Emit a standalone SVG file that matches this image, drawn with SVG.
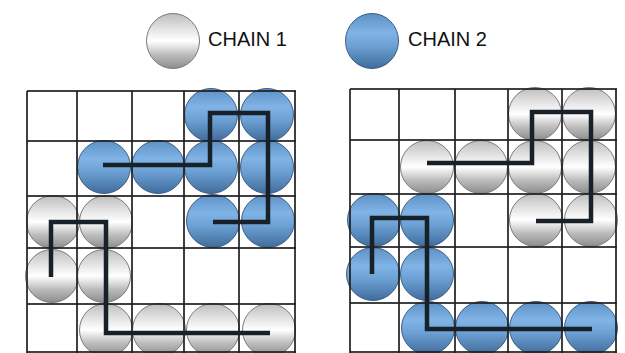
<svg xmlns="http://www.w3.org/2000/svg" width="625" height="353" viewBox="0 0 625 353">
<defs>
<linearGradient id="gw" x1="0" y1="0" x2="0" y2="1">
<stop offset="0" stop-color="#bdbdbd"/>
<stop offset="0.3" stop-color="#e6e6e6"/>
<stop offset="0.5" stop-color="#ffffff"/>
<stop offset="0.75" stop-color="#bcbcbc"/>
<stop offset="1" stop-color="#8c8c8c"/>
</linearGradient>
<linearGradient id="gb" x1="0" y1="0" x2="0" y2="1">
<stop offset="0" stop-color="#5d90c4"/>
<stop offset="0.35" stop-color="#80b3e6"/>
<stop offset="0.6" stop-color="#6c9fd2"/>
<stop offset="1" stop-color="#3f6c9c"/>
</linearGradient>
</defs>
<style>
.w{fill:url(#gw);stroke:#7a7a7a;stroke-width:1}
.b{fill:url(#gb);stroke:#3d5f85;stroke-width:1}
.grid line{stroke:#1e1e1e;stroke-width:2;stroke-opacity:0.85}
.conn path{fill:none;stroke:#18202a;stroke-width:4.5;stroke-linejoin:miter}
text{font-family:"Liberation Sans",Arial,sans-serif;font-size:20px;fill:#111}
</style>
<rect width="625" height="353" fill="#ffffff"/>
<g id="legend">
<g id="legend-chain1"><ellipse class="w" cx="173" cy="41" rx="26.5" ry="27.5"/><text x="208" y="46">CHAIN 1</text></g>
<g id="legend-chain2"><ellipse class="b" cx="372" cy="41" rx="26.5" ry="27.5"/><text x="408" y="46">CHAIN 2</text></g>
</g>
<g id="left-board">
<g id="L-b1"><circle class="b" cx="211" cy="115" r="26.5"/></g>
<g id="L-b2"><circle class="b" cx="267" cy="115" r="26.5"/></g>
<g id="L-b3"><circle class="b" cx="104" cy="167" r="26.5"/></g>
<g id="L-b4"><circle class="b" cx="158" cy="167" r="26.5"/></g>
<g id="L-b5"><circle class="b" cx="211" cy="167" r="26.5"/></g>
<g id="L-b6"><circle class="b" cx="267" cy="167" r="26.5"/></g>
<g id="L-b7"><circle class="b" cx="213" cy="221" r="26.5"/></g>
<g id="L-b8"><circle class="b" cx="268" cy="221" r="26.5"/></g>
<g id="L-w1"><circle class="w" cx="53" cy="222" r="26.5"/></g>
<g id="L-w2"><circle class="w" cx="106" cy="222" r="26.5"/></g>
<g id="L-w3"><circle class="w" cx="52" cy="276" r="26.5"/></g>
<g id="L-w4"><circle class="w" cx="104" cy="276" r="26.5"/></g>
<g id="L-w5"><circle class="w" cx="106" cy="330" r="26.5"/></g>
<g id="L-w6"><circle class="w" cx="159" cy="330" r="26.5"/></g>
<g id="L-w7"><circle class="w" cx="213" cy="330" r="26.5"/></g>
<g id="L-w8"><circle class="w" cx="269" cy="330" r="26.5"/></g>
<g class="grid">
<line x1="27" y1="91" x2="296" y2="91"/>
<line x1="27" y1="141" x2="296" y2="141"/>
<line x1="27" y1="196" x2="296" y2="196"/>
<line x1="27" y1="248" x2="296" y2="248"/>
<line x1="27" y1="304" x2="296" y2="304"/>
<line x1="27" y1="352" x2="296" y2="352"/>
<line x1="27" y1="91" x2="27" y2="353"/>
<line x1="77" y1="91" x2="77" y2="353"/>
<line x1="132" y1="91" x2="132" y2="353"/>
<line x1="184" y1="91" x2="184" y2="353"/>
<line x1="239" y1="91" x2="239" y2="353"/>
<line x1="295" y1="91" x2="295" y2="353"/>
</g>
</g>
<g id="right-board">
<g id="R-w1"><circle class="w" cx="535" cy="114" r="26.5"/></g>
<g id="R-w2"><circle class="w" cx="589" cy="114" r="26.5"/></g>
<g id="R-w3"><circle class="w" cx="427" cy="167" r="26.5"/></g>
<g id="R-w4"><circle class="w" cx="481" cy="167" r="26.5"/></g>
<g id="R-w5"><circle class="w" cx="535" cy="167" r="26.5"/></g>
<g id="R-w6"><circle class="w" cx="589" cy="167" r="26.5"/></g>
<g id="R-w7"><circle class="w" cx="536" cy="220" r="26.5"/></g>
<g id="R-w8"><circle class="w" cx="591" cy="220" r="26.5"/></g>
<g id="R-b1"><circle class="b" cx="374" cy="220" r="26.5"/></g>
<g id="R-b2"><circle class="b" cx="427" cy="220" r="26.5"/></g>
<g id="R-b3"><circle class="b" cx="373" cy="274" r="26.5"/></g>
<g id="R-b4"><circle class="b" cx="427" cy="274" r="26.5"/></g>
<g id="R-b5"><circle class="b" cx="428" cy="328" r="26.5"/></g>
<g id="R-b6"><circle class="b" cx="482" cy="328" r="26.5"/></g>
<g id="R-b7"><circle class="b" cx="536" cy="328" r="26.5"/></g>
<g id="R-b8"><circle class="b" cx="591" cy="328" r="26.5"/></g>
<g class="grid">
<line x1="350" y1="89" x2="617" y2="89"/>
<line x1="350" y1="140" x2="617" y2="140"/>
<line x1="350" y1="194" x2="617" y2="194"/>
<line x1="350" y1="247" x2="617" y2="247"/>
<line x1="350" y1="303" x2="617" y2="303"/>
<line x1="350" y1="352" x2="617" y2="352"/>
<line x1="350" y1="89" x2="350" y2="353"/>
<line x1="399" y1="89" x2="399" y2="353"/>
<line x1="455" y1="89" x2="455" y2="353"/>
<line x1="508" y1="89" x2="508" y2="353"/>
<line x1="562" y1="89" x2="562" y2="353"/>
<line x1="616" y1="89" x2="616" y2="353"/>
</g>
</g>
<g id="connectors" class="conn">
<path id="L-chain2" d="M103,165 H210 V113 H268 V222 H213"/>
<path id="L-chain1" d="M51,277 V222 H106 V333 H270"/>
<path id="R-chain1" d="M427,163 H532 V112 H591 V221 H536"/>
<path id="R-chain2" d="M372,274 V218 H427 V329 H592"/>
</g>
</svg>
